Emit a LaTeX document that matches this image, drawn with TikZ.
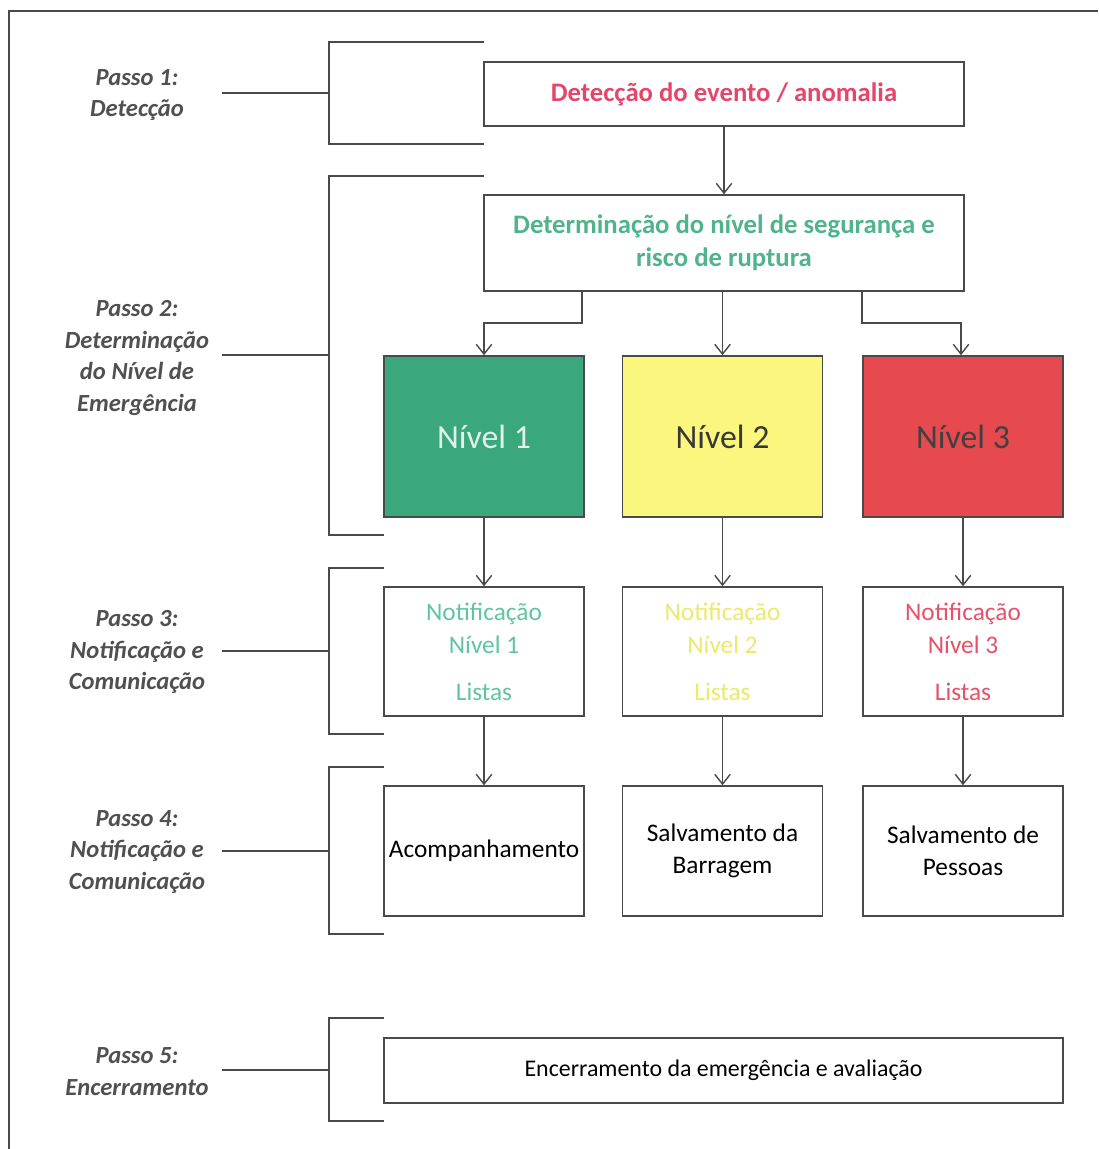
\documentclass[tikz,border=0pt]{standalone}
\usepackage{fontspec}
\setmainfont{Carlito}
\usepackage{xcolor}
\usetikzlibrary{arrows.meta}

\definecolor{linha}{HTML}{4A4A4A}
\definecolor{rotulo}{HTML}{505050}
\definecolor{verm}{HTML}{E5456A}
\definecolor{verde}{HTML}{4FB38C}
\definecolor{verdeN}{HTML}{3AA77C}
\definecolor{amareloN}{HTML}{FBF67D}
\definecolor{vermN}{HTML}{E64A4F}
\definecolor{notif1}{HTML}{5EC4A4}
\definecolor{notif2}{HTML}{ECE96A}
\definecolor{notif3}{HTML}{E6506B}

\begin{document}
\begin{tikzpicture}[x=0.025cm, y=-0.025cm, line width=1pt,
  >={Straight Barb[length=7pt,width=11pt]},
  fio/.style={draw=linha},
  passo/.style={align=center, text=rotulo, font=\fontsize{17.5}{22.7}\selectfont\bfseries\itshape},
  caixa/.style={draw=linha, align=center, inner sep=0pt},
  nivel/.style={caixa, minimum width=5cm, minimum height=4.025cm, font=\fontsize{24}{28}\selectfont},
  notif/.style={caixa, minimum width=5cm, minimum height=3.225cm, font=\fontsize{18}{23.4}\selectfont},
  acao/.style={caixa, minimum width=5cm, minimum height=3.25cm, font=\fontsize{18}{22.7}\selectfont}]

\useasboundingbox (0,0) rectangle (1098,1149);

% moldura
\draw[fio] (9,1149) -- (9,11) -- (1098,11);

% Passo 1
\node[passo] (p1) at (137,95) {Passo 1:\\Detecção};
\draw[fio] (484,42) -| (329,144) -- (484,144);
\coordinate (c1) at (222,93);
\draw[fio] (c1) -- (329,93);

\node[caixa, minimum width=12cm, minimum height=1.6cm, text=verm,
  font=\fontsize{19}{24}\selectfont\bfseries] (detec) at (724,94) {Detecção do evento / anomalia};

% Passo 2
\node[passo] (p2) at (137,358) {Passo 2:\\Determinação\\do Nível de\\Emergência};
\draw[fio] (484,176) -| (329,535) -- (384,535);
\coordinate (c2) at (222,355);
\draw[fio] (c2) -- (329,355);

\node[caixa, minimum width=12cm, minimum height=2.4cm, text=verde,
  font=\fontsize{19}{23.4}\selectfont\bfseries] (determ) at (724,243)
  {Determinação do nível de segurança e\\risco de ruptura};

\node[nivel, fill=verdeN, text=verdeN!15] (n1) at (484,436.5) {Nível 1};
\node[nivel, fill=amareloN, text=black!78] (n2) at (722.5,436.5) {Nível 2};
\node[nivel, fill=vermN, text=black!75] (n3) at (963,436.5) {Nível 3};

\draw[fio, ->] (detec) -- (determ);
\draw[fio, ->] (determ.south -| 582,0) |- (484,323) -- (n1.north);
\draw[fio, ->] (determ.south -| n2.north) -- (n2.north);
\draw[fio, ->] (determ.south -| 862,0) |- (961,323) -- (n3.north -| 961,0);

% Passo 3
\node[passo] (p3) at (137,652) {Passo 3:\\Notificação e\\Comunicação};
\draw[fio] (384,568) -| (329,734) -- (384,734);
\coordinate (c3) at (222,651);
\draw[fio] (c3) -- (329,651);

\node[notif, text=notif1] (m1) at (484,651.5) {Notificação\\Nível 1\\[10pt]Listas};
\node[notif, text=notif2] (m2) at (722.5,651.5) {Notificação\\Nível 2\\[10pt]Listas};
\node[notif, text=notif3] (m3) at (963,651.5) {Notificação\\Nível 3\\[10pt]Listas};

\draw[fio, ->] (n1) -- (m1);
\draw[fio, ->] (n2) -- (m2);
\draw[fio, ->] (n3) -- (m3);

% Passo 4
\node[passo] (p4) at (137,852) {Passo 4:\\Notificação e\\Comunicação};
\draw[fio] (384,767) -| (329,934) -- (384,934);
\coordinate (c4) at (222,851);
\draw[fio] (c4) -- (329,851);

\node[acao] (a1) at (484,851) {Acompanhamento};
\node[acao] (a2) at (722.5,851) {Salvamento da\\Barragem};
\node[acao] (a3) at (963,851) {Salvamento de\\Pessoas};

\draw[fio, ->] (m1) -- (a1);
\draw[fio, ->] (m2) -- (a2);
\draw[fio, ->] (m3) -- (a3);

% Passo 5
\node[passo] (p5) at (137,1072) {Passo 5:\\Encerramento};
\draw[fio] (384,1018) -| (329,1121) -- (384,1121);
\coordinate (c5) at (222,1070);
\draw[fio] (c5) -- (329,1070);

\node[caixa, minimum width=16.975cm, minimum height=1.625cm,
  font=\fontsize{17}{21}\selectfont] (fim) at (723.5,1070.5) {Encerramento da emergência e avaliação};

\end{tikzpicture}
\end{document}
